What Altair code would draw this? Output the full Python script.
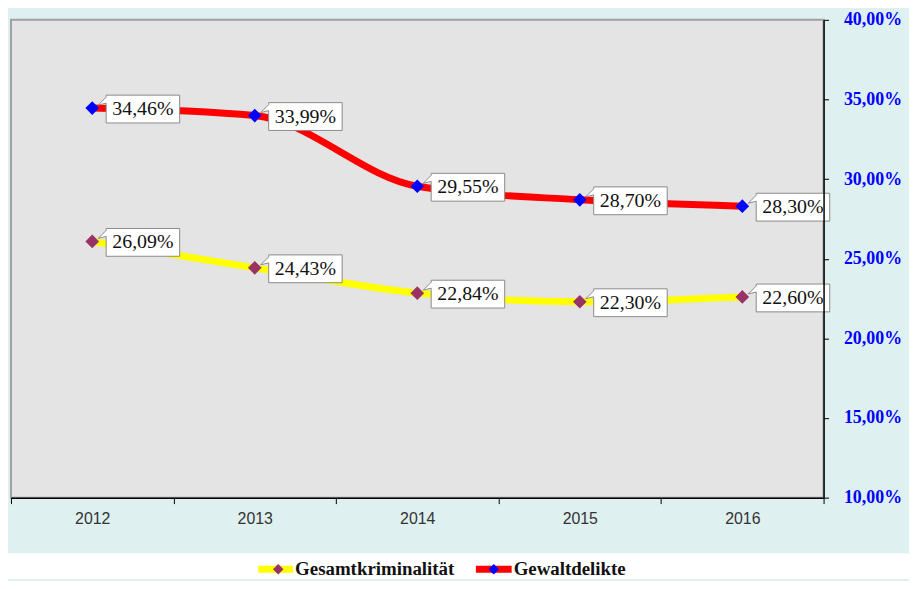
import altair as alt
import pandas as pd

years = ["2012", "2013", "2014", "2015", "2016"]
series_names = ["Gesamtkriminalität", "Gewaltdelikte"]
gesamt = [26.09, 24.43, 22.84, 22.30, 22.60]
gewalt = [34.46, 33.99, 29.55, 28.70, 28.30]
y_ticks = [10, 15, 20, 25, 30, 35, 40]

line_colors = ["#ffff00", "#ff0000"]
marker_colors = ["#993366", "#0000ff"]

rows = []
for name, vals in zip(series_names, [gesamt, gewalt]):
    for yr, v in zip(years, vals):
        rows.append({"year": yr, "series": name, "value": v})
df = pd.DataFrame(rows)

W, H = 818, 481

x_enc = alt.X(
    "year:N",
    bandPosition=0.5,
    scale=alt.Scale(type="band", domain=years, paddingInner=0, paddingOuter=0),
    axis=alt.Axis(
        title=None, orient="bottom", tickBand="extent", labelAngle=0,
        labelFont="Liberation Sans", labelFontSize=16, labelColor="#333333",
        labelPadding=7, tickSize=6, tickColor="#000000", tickWidth=1,
        domainColor="#000000", domainWidth=1.5, zindex=1,
    ),
)
y_enc = alt.Y(
    "value:Q",
    scale=alt.Scale(domain=[10, 40], nice=False, zero=False),
    axis=alt.Axis(
        title=None, orient="right", values=y_ticks, grid=False,
        labelExpr="replace(format(datum.value, '.2f'), '.', ',') + '%'",
        labelFont="Liberation Serif", labelFontWeight="bold", labelFontSize=18,
        labelColor="#0000ff", labelPadding=15, tickSize=5, tickColor="#000000",
        domainColor="#000000", domainWidth=1.5, zindex=1,
    ),
)

base = alt.Chart(df)

lines = base.mark_line(strokeWidth=7, interpolate="monotone").encode(
    x=x_enc, y=y_enc,
    stroke=alt.Stroke("series:N", scale=alt.Scale(domain=series_names, range=line_colors), legend=None),
    detail="series:N",
)

diamonds = base.mark_point(shape="diamond", filled=True, size=190, opacity=1).encode(
    x=x_enc, y=y_enc,
    fill=alt.Fill("series:N", scale=alt.Scale(domain=series_names, range=marker_colors), legend=None),
)

box_path = "M14,-13 L88,-13 L88,15 L14,15 L14,-5 L6,-3 L14,-11 Z"
boxes = base.mark_point(
    shape=box_path, size=4, filled=True, fill="#ffffff", stroke="#8a8a8a",
    strokeWidth=1, opacity=1,
).encode(x=x_enc, y=y_enc)

labels = base.transform_calculate(
    lbl="replace(format(datum.value, '.2f'), '.', ',') + '%'"
).mark_text(
    font="Liberation Serif", fontSize=20, color="#111111", align="center",
    baseline="middle", xOffset=51, yOffset=1,
).encode(x=x_enc, y=y_enc, text="lbl:N")

white_band = alt.Chart(pd.DataFrame({"a": [0]})).mark_rect(color="#ffffff").encode(
    x=alt.value(-3), x2=alt.value(904), y=alt.value(537), y2=alt.value(563)
)

legend_layers = []
legend_pos = [(249, 284, 269, 286), (468, 504, 486, 506)]
for name, lc, mc, (x1, x2, xd, xt) in zip(series_names, line_colors, marker_colors, legend_pos):
    ld = alt.Chart(pd.DataFrame({"name": [name]}))
    legend_layers.append(ld.mark_rule(color=lc, strokeWidth=7).encode(
        x=alt.value(x1), x2=alt.value(x2), y=alt.value(553)))
    legend_layers.append(ld.mark_point(shape="diamond", filled=True, size=110, opacity=1, color=mc).encode(
        x=alt.value(xd), y=alt.value(553)))
    legend_layers.append(ld.mark_text(
        font="Liberation Serif", fontWeight="bold", fontSize=19, color="#111111",
        align="left", baseline="alphabetic").encode(
        x=alt.value(xt), y=alt.value(559), text="name:N"))

chart = alt.layer(white_band, lines, diamonds, boxes, labels, *legend_layers).properties(
    width=W, height=H,
    autosize=alt.AutoSizeParams(type="none"),
    padding={"left": 3, "top": 10, "right": 86, "bottom": 82},
).configure(
    background="#def0ef",
).configure_view(
    fill="#e4e4e4", stroke="#a0a0a0", strokeWidth=2,
)

chart.save("out.html", embed_options={"renderer": "svg", "actions": False})
